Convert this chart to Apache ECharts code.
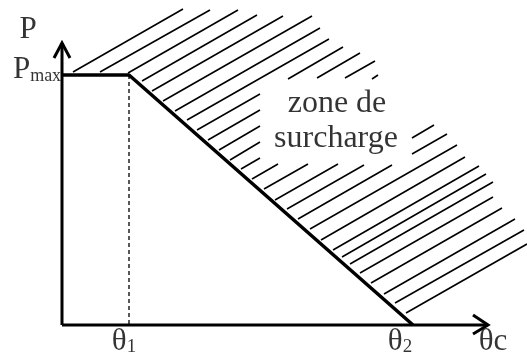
<!DOCTYPE html>
<html>
<head>
<meta charset="utf-8">
<title>zone de surcharge</title>
<script src="https://cdn.jsdelivr.net/npm/echarts@6/dist/echarts.min.js"></script>
<style>
html, body { margin: 0; padding: 0; background: #fff; }
#chart { width: 527px; height: 364px; }
</style>
</head>
<body>
<div id="chart"></div>
<script>
// 1 unit = 1 px, origin where the two axes cross
var pMax = 250;
var theta1 = 67;
var theta2 = 351;
var curveX = [0, theta1, theta2];
var curveY = [pMax, pMax, 0];
var axisTipX = 426;
var axisTipY = 282;

// hatch strokes of the overload zone: [x1, y1, x2, y2]
var hatchSegments = [
  [11, 253, 121, 316], [38, 253, 148, 315], [66, 252, 176, 315],
  [80, 244, 195, 310], [90, 234, 221, 309], [101, 224, 250, 309],
  [113, 214, 258, 297], [125, 205, 267, 286],
  [135, 195, 198, 231], [226, 246, 281, 278],
  [146, 185, 198, 215], [255, 247, 298, 272],
  [157, 175, 198, 199], [283, 247, 313, 264],
  [168, 165, 198, 183], [310, 246, 316, 250],
  [179, 156, 198, 167], [190, 146, 216, 161],
  [202, 136, 246, 161], [213, 125, 276, 161],
  [225, 116, 302, 160], [350, 187, 372, 200],
  [236, 106, 330, 160], [350, 171, 385, 191],
  [248, 96, 395, 180], [259, 85, 403, 168], [271, 75, 417, 159],
  [280, 68, 424, 151], [288, 61, 431, 143], [298, 52, 431, 128],
  [309, 42, 440, 117], [322, 31, 453, 106], [333, 22, 462, 95],
  [344, 12, 465, 81]
];

var labelTexts = ['{m|P}', '{m|P}{sub|max}', '{m|θ}{idx|1}', '{m|θ}{idx|2}', '{m|θc}', '{z|zone de}', '{z|surcharge}'];
var labelX = [-34, -25, 62, 338, 431, 275, 274];
var labelY = [295, 255, -17, -17, -17, 221, 186];

var font = 'Liberation Serif';
var chart = echarts.init(document.getElementById('chart'));

chart.setOption({
  animation: false,
  grid: { left: 0, right: 0, top: 0, bottom: 0 },
  xAxis: { type: 'value', min: -62, max: 465, show: false },
  yAxis: { type: 'value', min: -39, max: 325, show: false },
  series: [
    {
      type: 'lines',
      coordinateSystem: 'cartesian2d',
      silent: true,
      z: 1,
      lineStyle: { color: '#000', width: 1.6, opacity: 1 },
      data: hatchSegments.map(function (s) {
        return { coords: [[s[0], s[1]], [s[2], s[3]]] };
      })
    },
    {
      // axes with open arrow heads
      type: 'lines',
      coordinateSystem: 'cartesian2d',
      polyline: true,
      silent: true,
      z: 3,
      lineStyle: { color: '#000', width: 3, opacity: 1, join: 'miter' },
      data: [
        { coords: [[0, 0], [axisTipX, 0]] },
        { coords: [[0, 0], [0, axisTipY]] },
        { coords: [[-8, axisTipY - 15], [0, axisTipY], [8, axisTipY - 15]] },
        { coords: [[axisTipX - 15, 10], [axisTipX, 0], [axisTipX - 15, -9]] }
      ]
    },
    {
      type: 'line',
      symbol: 'none',
      silent: true,
      z: 4,
      lineStyle: { color: '#000', width: 3.5 },
      data: curveX.map(function (x, i) { return [x, curveY[i]]; })
    },
    {
      type: 'line',
      symbol: 'none',
      silent: true,
      z: 2,
      lineStyle: { color: '#000', width: 1.3, type: [4, 3] },
      data: [[theta1, pMax], [theta1, 0]]
    },
    {
      type: 'scatter',
      symbolSize: 0,
      silent: true,
      z: 5,
      label: {
        show: true,
        position: 'inside',
        align: 'center',
        verticalAlign: 'middle',
        formatter: function (p) { return labelTexts[p.dataIndex]; },
        rich: {
          m: { fontFamily: font, fontSize: 31, lineHeight: 30, color: '#000' },
          sub: { fontFamily: font, fontSize: 18, lineHeight: 18, color: '#000', verticalAlign: 'bottom' },
          idx: { fontFamily: font, fontSize: 19, lineHeight: 6, color: '#000', verticalAlign: 'bottom' },
          z: { fontFamily: font, fontSize: 32, lineHeight: 32, color: '#000' }
        }
      },
      data: labelX.map(function (x, i) { return [x, labelY[i]]; })
    }
  ]
});
</script>
</body>
</html>
